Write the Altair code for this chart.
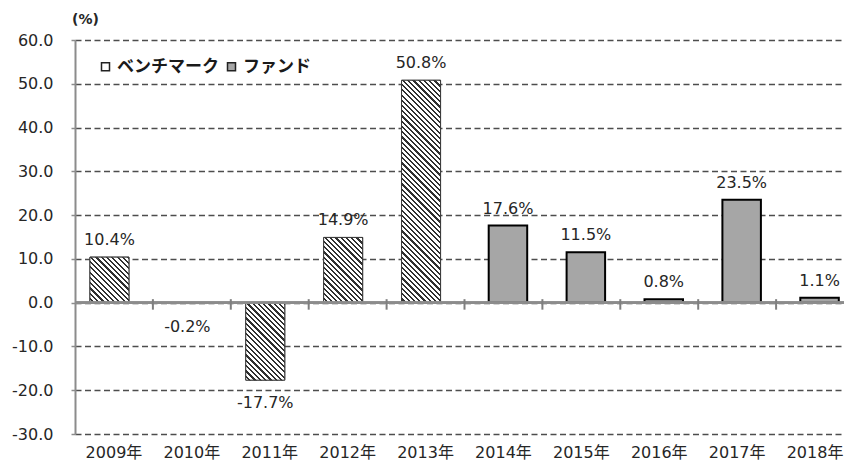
import altair as alt
import pandas as pd

# ---------------- data ----------------
years = ["2009年", "2010年", "2011年", "2012年", "2013年",
         "2014年", "2015年", "2016年", "2017年", "2018年"]
series = ["ベンチマーク"] * 5 + ["ファンド"] * 5
values = [10.4, -0.2, -17.7, 14.9, 50.8, 17.6, 11.5, 0.8, 23.5, 1.1]
series_names = ["ベンチマーク", "ファンド"]
y_ticks = [-30, -20, -10, 0, 10, 20, 30, 40, 50, 60]
boundary_years = years[1:]
tick_top = [0.8] * len(boundary_years)
tick_bottom = [-1.6] * len(boundary_years)

df = pd.DataFrame({"year": years, "series": series, "value": values})
df["label"] = [f"{v:.1f}%" for v in values]
bounds_df = pd.DataFrame({"year": boundary_years, "top": tick_top, "bottom": tick_bottom})

# ---------------- layout / style ----------------
PLOT_W, PLOT_H = 769, 394
X_RANGE = 779
STEP = X_RANGE / len(years)
BAR_W = 39
Y_MIN, Y_MAX = -30, 60
PX_PER_UNIT = PLOT_H / (Y_MAX - Y_MIN)
NUM_FONT = "DejaVu Sans, Noto Sans CJK JP"
JP_FONT = "Noto Sans CJK JP"
TXT = "#262626"


def hatch(value):
    """Diagonal '\\' hatching as a hard-stop linear gradient (bbox units)."""
    h = max(abs(value) * PX_PER_UNIT, 0.5)
    w = BAR_W
    r = h / w
    s = (1 + r) / (1 + r * r)
    n = max(1, round((w + h) / 5.2))
    dark = 0.42
    stops = []
    for k in range(n):
        a, b, c = k / n, (k + 1 - dark) / n, (k + 1) / n
        stops += [
            {"offset": round(a, 5), "color": "#ffffff"},
            {"offset": round(b, 5), "color": "#ffffff"},
            {"offset": round(b, 5), "color": "#303030"},
            {"offset": round(c, 5), "color": "#303030"},
        ]
    return {"gradient": "linear", "x1": 0, "y1": 1,
            "x2": round(s, 5), "y2": round(1 - s * r, 5), "stops": stops}


x_scale = alt.Scale(domain=years, range=[0, X_RANGE], paddingInner=0, paddingOuter=0)
x_axis = alt.Axis(title=None, domain=False, ticks=False, grid=False, labelAngle=0,
                  labelFont=NUM_FONT, labelFontSize=16, labelColor=TXT, labelPadding=10)
y_scale = alt.Scale(domain=[Y_MIN, Y_MAX], nice=False, zero=False)
y_axis = alt.Axis(
    values=y_ticks,
    labelExpr="(datum.value < 0 ? '-' : '') + format(abs(datum.value), '.1f')",
    grid=True, gridDash=[6, 3.5], gridColor="#4d4d4d", gridWidth=1.6,
    domainColor="#8c8c8c", domainWidth=2,
    tickColor="#8c8c8c", tickSize=4, tickWidth=1.5,
    labelFont=NUM_FONT, labelFontSize=16, labelColor=TXT, labelPadding=18,
    title="(%)", titleAngle=0, titleX=10, titleY=-21, titleAlign="center",
    titleBaseline="middle", titleFont=NUM_FONT, titleFontSize=14,
    titleFontWeight="bold", titleColor=TXT,
)

X = alt.X("year:N", scale=x_scale, axis=x_axis)
Y = alt.Y("value:Q", scale=y_scale, axis=y_axis)

fill = alt.Fill(
    "series:N",
    scale=alt.Scale(domain=series_names, range=["#ffffff", "#a6a6a6"]),
    legend=alt.Legend(
        orient="none", legendX=22, legendY=18, direction="horizontal", title=None,
        symbolType="square", symbolSize=64, symbolStrokeColor="#222222",
        symbolStrokeWidth=1.5, labelFont=JP_FONT, labelFontWeight="bold",
        labelFontSize=17, labelColor="#1a1a1a", labelOffset=3,
        columnPadding=4, padding=0,
    ),
)

base = alt.Chart(df)

bench_bars = base.transform_filter(alt.datum.series == series_names[0]).mark_bar(
    width=BAR_W, xOffset=-4.5, stroke="#3a3a3a", strokeWidth=1
).encode(x=X, y=Y, fill=fill)

fund_bars = base.transform_filter(alt.datum.series == series_names[1]).mark_bar(
    width=38.5, xOffset=4.5, stroke="#000000", strokeWidth=2
).encode(x=X, y=Y, fill=fill)

hatch_layers = []
for yr, sr, v in zip(years, series, values):
    if sr != series_names[0]:
        continue
    hatch_layers.append(
        base.transform_filter(alt.datum.year == yr).mark_bar(
            width=BAR_W, xOffset=-4.5, fill=hatch(v), stroke="#3a3a3a", strokeWidth=1
        ).encode(x=X, y=Y)
    )

zero_line = alt.Chart(df).mark_rule(color="#8c8c8c", strokeWidth=2).encode(
    y=alt.Y(datum=0, scale=y_scale, axis=y_axis)
)

tick_marks = alt.Chart(bounds_df).mark_rule(
    color="#7f7f7f", strokeWidth=2, xOffset=-STEP / 2
).encode(
    x=alt.X("year:N", scale=x_scale, axis=x_axis),
    y=alt.Y("top:Q", scale=y_scale, axis=y_axis),
    y2="bottom:Q",
)

text_style = dict(font=NUM_FONT, fontSize=16, color=TXT, align="center")
bench_pos = base.transform_filter(
    (alt.datum.series == series_names[0]) & (alt.datum.value >= 0)
).mark_text(dx=-4.5, dy=-12, baseline="alphabetic", **text_style).encode(x=X, y=Y, text="label:N")
bench_neg = base.transform_filter(
    (alt.datum.series == series_names[0]) & (alt.datum.value < 0)
).mark_text(dx=-4.5, dy=15, baseline="top", **text_style).encode(x=X, y=Y, text="label:N")
fund_txt = base.transform_filter(alt.datum.series == series_names[1]).mark_text(
    dx=4.5, dy=-12, baseline="alphabetic", **text_style
).encode(x=X, y=Y, text="label:N")

chart = alt.layer(
    bench_bars, fund_bars, *hatch_layers, zero_line,
    bench_pos, bench_neg, fund_txt, tick_marks,
).properties(
    width=PLOT_W, height=PLOT_H,
    autosize=alt.AutoSizeParams(type="none"),
    padding={"left": 75, "top": 40, "right": 0, "bottom": 32},
    background="white",
).configure_view(stroke=None)

chart.save("out.html", embed_options={"renderer": "svg", "actions": False})
